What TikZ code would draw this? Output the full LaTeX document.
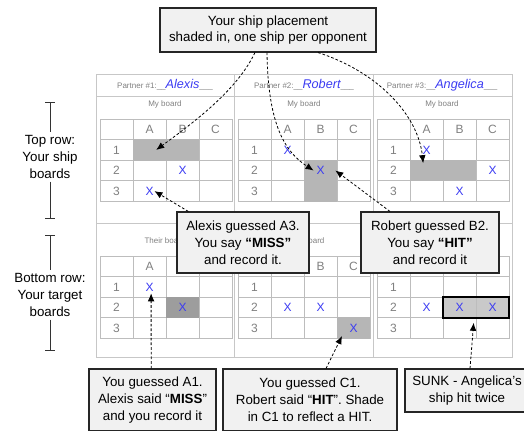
\documentclass[tikz,border=0pt]{standalone}
\usepackage{fontspec}
\setmainfont{Liberation Sans}
\usepackage{xcolor}
\usetikzlibrary{arrows.meta, positioning, shadows}

\definecolor{penblue}{HTML}{3B3BF2}
\definecolor{notegray}{HTML}{F1F1F1}
\definecolor{shipgray}{HTML}{B6B6B6}
\definecolor{hitgray}{HTML}{9D9D9D}
\definecolor{sunkgray}{HTML}{C9C9C9}

% 4x4 board of cells: name, left edge, top edge (pixel units)
\newcommand{\boardgrid}[3]{%
  \foreach \r in {0,...,3}{
    \foreach \c in {0,...,3}{
      \node[cell] (#1-\r\c) at ({#2+16.5+33*\c},{#3+10.3+20.6*\r}) {};
    }
  }
  \foreach \lab [count=\c] in {A,B,C}
    \node[axis] (#1-h\c) at (#1-0\c) {\lab};
  \foreach \r in {1,2,3}
    \node[axis] (#1-v\r) at (#1-\r0) {\r};
}
\newcommand{\namefont}{\fontsize{9.5}{9.5}\selectfont\itshape}

\begin{document}
\begin{tikzpicture}[
  x=0.75pt, y=-0.75pt,
  frame/.style={draw=black!22, line width=0.6pt},
  cell/.style={draw=black!26, line width=0.5pt, minimum width=24.75pt, minimum height=15.45pt, inner sep=0pt},
  axis/.style={text=black!50, font=\small, inner sep=0pt},
  shot/.style={text=penblue, font=\small, inner sep=0pt},
  head/.style={text=black!50, font=\fontsize{6}{7}\selectfont, inner sep=1pt},
  note/.style={draw=black!85, fill=notegray, line width=0.8pt, align=center, inner sep=2pt,
    font=\fontsize{10}{12.75}\selectfont,
    drop shadow={shadow xshift=1pt, shadow yshift=-1pt, opacity=0.25}},
  side/.style={align=center, inner sep=2pt, font=\fontsize{10}{12.75}\selectfont},
  sidebar/.style={line width=0.7pt, black!80},
  arr/.style={-{Latex[length=6pt, width=5pt]}, dash pattern=on 2pt off 1.5pt, line width=0.6pt}
]
\useasboundingbox (0,0) rectangle (524,431);

% score sheet frame
\draw[frame] (96,74) rectangle (512,357);
\foreach \xv in {234,373} \draw[frame] (\xv,74) -- (\xv,357);
\foreach \yv in {96,223} \draw[frame] (96,\yv) -- (512,\yv);

\foreach \nm/\xc [count=\i] in {Alexis/165, Robert/304, Angelica/442} {
  \node[head] (part\i) at (\xc,85) {Partner \#\i:\_\_\textcolor{penblue}{\namefont\nm}\_\_\_};
  \node[head] (mine\i) at (\xc,104) {My board};
  \node[head] (theirs\i) at (\xc,241) {Their board};
}

% boards
\boardgrid{ownA}{100}{119}
\boardgrid{ownR}{238}{119}
\boardgrid{ownG}{377}{119}
\boardgrid{tgtA}{100}{256}
\boardgrid{tgtR}{238}{256}
\boardgrid{tgtG}{377}{256}

% shaded ships and hits
\fill[shipgray] (ownA-11.north west) rectangle (ownA-12.south east);
\fill[shipgray] (ownR-22.north west) rectangle (ownR-32.south east);
\fill[shipgray] (ownG-21.north west) rectangle (ownG-22.south east);
\fill[hitgray] (tgtA-22.north west) rectangle (tgtA-22.south east);
\fill[shipgray] (tgtR-33.north west) rectangle (tgtR-33.south east);
\fill[sunkgray] (tgtG-22.north west) rectangle (tgtG-23.south east);
\draw[black!26, line width=0.5pt] (tgtG-22.north east) -- (tgtG-22.south east);
\draw[line width=1.6pt] (tgtG-22.north west) rectangle (tgtG-23.south east);

\foreach \cl in {ownA-22, ownA-31, ownR-11, ownR-22, ownG-11, ownG-23, ownG-32,
                 tgtA-11, tgtA-22, tgtR-21, tgtR-22, tgtR-33, tgtG-21, tgtG-22, tgtG-23}
  \node[shot] (x-\cl) at (\cl) {X};

% side labels
\node[side] (toprow) at (50,157) {Top row:\\Your ship\\boards};
\node[side] (botrow) at (50,295) {Bottom row:\\Your target\\boards};
\coordinate (toptop) at (50,102);
\coordinate (topbot) at (50,219);
\coordinate (bottop) at (50,235);
\coordinate (botbot) at (50,351);
\draw[sidebar, {Bar[width=7pt]}-] (toptop) -- (toprow.north);
\draw[sidebar, -{Bar[width=7pt]}] (toprow.south) -- (topbot);
\draw[sidebar, {Bar[width=7pt]}-] (bottop) -- (botrow.north);
\draw[sidebar, -{Bar[width=7pt]}] (botrow.south) -- (botbot);

% callouts
\node[note, minimum width=162pt, minimum height=33pt, font=\fontsize{10}{11.7}\selectfont] (place) at (268,30)
  {Your ship placement\\shaded in, one ship per opponent};
\node[note, minimum width=99pt, minimum height=45.75pt] (missA) at (243,242.5)
  {Alexis guessed A3.\\You say \textbf{“MISS”}\\and record it.};
\node[note, minimum width=103.5pt, minimum height=45.75pt] (hitR) at (430,242.5)
  {Robert guessed B2.\\You say \textbf{“HIT”}\\and record it};
\node[note, minimum width=95.25pt, minimum height=46.5pt] (youA) at (152.5,400)
  {You guessed A1.\\Alexis said “\textbf{MISS}”\\and you record it};
\node[note, minimum width=130.5pt, minimum height=46.5pt] (youC) at (310,400)
  {You guessed C1.\\Robert said “\textbf{HIT}”. Shade\\in C1 to reflect a HIT.};
\node[note, minimum width=93pt, minimum height=32.25pt] (sunk) at (467,390.5)
  {SUNK - Angelica's\\ship hit twice};

% connectors
\draw[arr] ([xshift=-9.75pt]place.south) .. controls (238,88) and (200,118) .. ([xshift=5pt]ownA-11.center);
\draw[arr] ([xshift=-0.75pt]place.south) .. controls (268,125) and (285,152) .. ([xshift=-2pt]x-ownR-22.west);
\draw[arr] ([xshift=37.5pt]place.south) .. controls (378,72) and (418,115) .. ([xshift=-2.5pt, yshift=5.5pt]ownG-21.center);
\draw[arr] ([xshift=-41pt]missA.north) -- ([xshift=0.5pt]x-ownA-31.east);
\draw[arr] ([xshift=-30pt]hitR.north) -- ([xshift=-1.5pt]ownR-22.east);
\draw[arr] ([xshift=-1pt]youA.north) -- ([xshift=1.2pt, yshift=-1.5pt]x-tgtA-11.south);
\draw[arr] ([xshift=12pt]youC.north) -- ([xshift=4pt, yshift=2pt]tgtR-33.south west);
\draw[arr] ([xshift=2.25pt]sunk.north) -- ([xshift=-2pt, yshift=-3.5pt]tgtG-22.south east);
\end{tikzpicture}
\end{document}
